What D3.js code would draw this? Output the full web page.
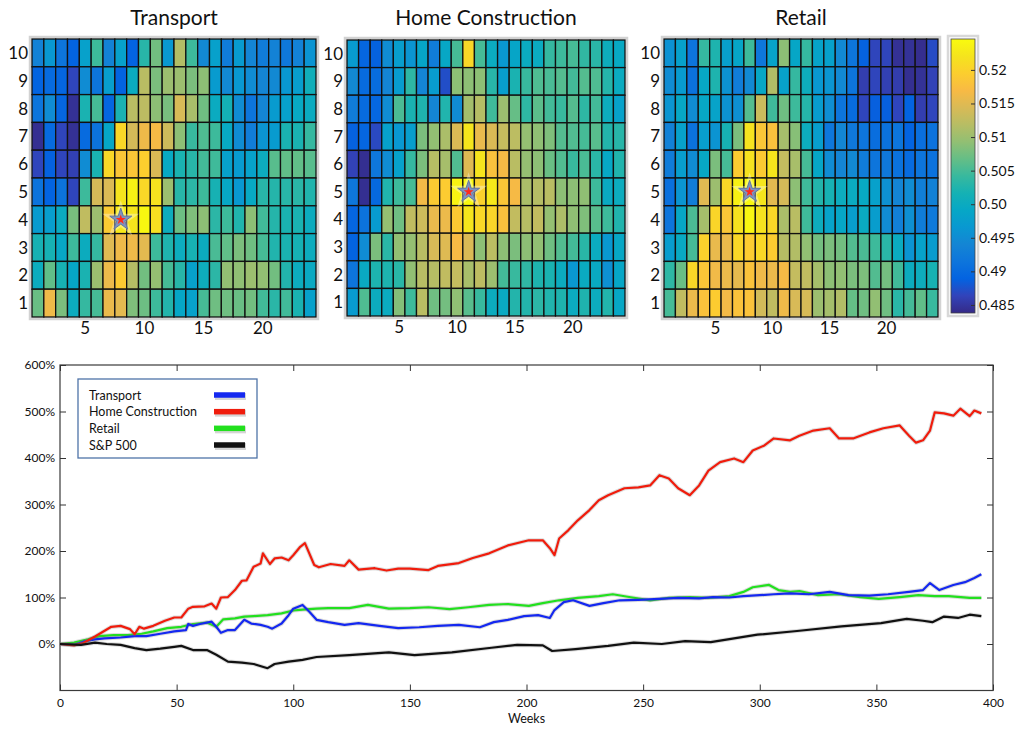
<!DOCTYPE html>
<html>
<head>
<meta charset="utf-8">
<script src="https://cdn.jsdelivr.net/npm/d3@7"></script>
<style>
  body { margin: 0; background: #fff; }
  svg { display: block; }
  text { font-family: Lato, "Open Sans", sans-serif; fill: #111; }
</style>
</head>
<body>
<svg id="chart" width="1019" height="731"></svg>
<script>
// ---- heatmap data (rows listed top = 10 to bottom = 1, columns 1..24) ----
const rowLabels = [10, 9, 8, 7, 6, 5, 4, 3, 2, 1];
const colLabels = d3.range(1, 25);
const colTicks = [5, 10, 15, 20];

const transportGrid = [
  [0.4935, 0.4965, 0.4915, 0.4890, 0.4980, 0.5045, 0.4935, 0.4980, 0.4890, 0.5030, 0.5075, 0.4965, 0.5115, 0.5045, 0.4945, 0.4980, 0.4925, 0.4970, 0.4940, 0.4925, 0.4935, 0.4920, 0.4935, 0.4960],
  [0.4890, 0.4900, 0.4893, 0.4865, 0.4950, 0.4915, 0.4975, 0.4890, 0.5000, 0.5120, 0.5080, 0.5100, 0.5100, 0.5080, 0.5090, 0.4970, 0.4945, 0.4965, 0.4950, 0.4940, 0.4945, 0.4965, 0.4975, 0.5010],
  [0.4915, 0.4950, 0.4893, 0.4845, 0.5020, 0.5050, 0.4893, 0.5020, 0.5120, 0.5123, 0.5090, 0.5078, 0.5143, 0.5108, 0.5073, 0.5000, 0.5015, 0.4950, 0.4915, 0.4940, 0.4970, 0.4980, 0.4995, 0.5000],
  [0.4843, 0.4900, 0.4865, 0.4845, 0.4900, 0.4912, 0.4990, 0.5205, 0.5140, 0.5162, 0.5168, 0.5135, 0.5090, 0.5042, 0.5055, 0.5045, 0.4995, 0.4950, 0.4928, 0.4960, 0.4970, 0.5020, 0.5020, 0.5040],
  [0.4865, 0.4888, 0.4865, 0.4860, 0.4950, 0.5020, 0.5205, 0.5185, 0.5185, 0.5195, 0.5145, 0.4995, 0.5020, 0.5030, 0.5048, 0.5046, 0.4980, 0.4970, 0.4982, 0.5003, 0.5060, 0.5065, 0.5065, 0.5060],
  [0.4912, 0.4890, 0.4912, 0.4865, 0.5045, 0.5140, 0.5145, 0.5220, 0.5235, 0.5205, 0.5218, 0.5100, 0.5030, 0.5033, 0.5045, 0.5018, 0.4992, 0.4965, 0.4995, 0.5030, 0.5028, 0.5030, 0.5032, 0.5025],
  [0.4970, 0.4975, 0.5000, 0.5078, 0.5125, 0.5100, 0.5190, 0.5225, 0.5222, 0.5242, 0.5215, 0.5005, 0.5072, 0.5082, 0.5090, 0.5033, 0.5045, 0.5025, 0.5090, 0.5047, 0.5028, 0.5020, 0.5020, 0.5002],
  [0.5018, 0.5018, 0.4992, 0.5045, 0.5002, 0.5040, 0.5148, 0.5162, 0.5162, 0.5152, 0.5045, 0.5024, 0.5003, 0.5018, 0.5002, 0.5052, 0.5065, 0.5080, 0.5073, 0.5050, 0.5025, 0.5020, 0.5017, 0.5003],
  [0.5003, 0.5065, 0.5018, 0.4990, 0.5020, 0.5100, 0.5160, 0.5190, 0.5117, 0.5075, 0.5095, 0.5050, 0.5030, 0.4980, 0.5005, 0.5033, 0.5093, 0.5092, 0.5100, 0.5093, 0.5075, 0.5026, 0.5003, 0.4997],
  [0.5070, 0.5162, 0.5080, 0.5002, 0.5040, 0.5050, 0.5158, 0.5152, 0.5082, 0.5072, 0.5045, 0.5027, 0.4990, 0.4982, 0.5050, 0.5073, 0.5073, 0.5070, 0.5075, 0.5047, 0.5032, 0.5047, 0.5020, 0.4980]
];

const homeGrid = [
  [0.4970, 0.4893, 0.4888, 0.4950, 0.4975, 0.4962, 0.4988, 0.4925, 0.4992, 0.5050, 0.5205, 0.5050, 0.5000, 0.4965, 0.4988, 0.5000, 0.5000, 0.5040, 0.5045, 0.5050, 0.5037, 0.5032, 0.5005, 0.4995],
  [0.4945, 0.4900, 0.4903, 0.4940, 0.4973, 0.5035, 0.4940, 0.4973, 0.4872, 0.5090, 0.5090, 0.5090, 0.5030, 0.4975, 0.5020, 0.5042, 0.5055, 0.5052, 0.5058, 0.5048, 0.5058, 0.5055, 0.5028, 0.5000],
  [0.4925, 0.4900, 0.4895, 0.4950, 0.5053, 0.5020, 0.5024, 0.4940, 0.5025, 0.4950, 0.5105, 0.5117, 0.5046, 0.5100, 0.5068, 0.5035, 0.5062, 0.5048, 0.5042, 0.5058, 0.5035, 0.5048, 0.5003, 0.4982],
  [0.4888, 0.4893, 0.4868, 0.4980, 0.4965, 0.4975, 0.5080, 0.5093, 0.5110, 0.5145, 0.5222, 0.5157, 0.5145, 0.5130, 0.5122, 0.5095, 0.5092, 0.5082, 0.5058, 0.5056, 0.5050, 0.5060, 0.5027, 0.5030],
  [0.4862, 0.4843, 0.4918, 0.4950, 0.4980, 0.5040, 0.5080, 0.5118, 0.5107, 0.5056, 0.5148, 0.5220, 0.5178, 0.5168, 0.5120, 0.5095, 0.5090, 0.5070, 0.5056, 0.5042, 0.5052, 0.5032, 0.4993, 0.5025],
  [0.4918, 0.4843, 0.4897, 0.5025, 0.5045, 0.5050, 0.5165, 0.5190, 0.5192, 0.5237, 0.5242, 0.5198, 0.5225, 0.5185, 0.5168, 0.5110, 0.5117, 0.5120, 0.5090, 0.5090, 0.5092, 0.5045, 0.4997, 0.5003],
  [0.4893, 0.4912, 0.4970, 0.5095, 0.5073, 0.5125, 0.5135, 0.5157, 0.5160, 0.5190, 0.5222, 0.5205, 0.5203, 0.5178, 0.5127, 0.5118, 0.5127, 0.5095, 0.5112, 0.5092, 0.5082, 0.5060, 0.5045, 0.5025],
  [0.4890, 0.4950, 0.5080, 0.5032, 0.5093, 0.5095, 0.5120, 0.5143, 0.5148, 0.5168, 0.5145, 0.5090, 0.5122, 0.5090, 0.5080, 0.5090, 0.5093, 0.5073, 0.5057, 0.5048, 0.5031, 0.5000, 0.4965, 0.4992],
  [0.4915, 0.4997, 0.5022, 0.5022, 0.5031, 0.5093, 0.5119, 0.5118, 0.5125, 0.5128, 0.5108, 0.5123, 0.5100, 0.5048, 0.5042, 0.5036, 0.5023, 0.5020, 0.5002, 0.4965, 0.4998, 0.4996, 0.4955, 0.4990],
  [0.4970, 0.5055, 0.5002, 0.5000, 0.5085, 0.5045, 0.5120, 0.5073, 0.5076, 0.5092, 0.5060, 0.5042, 0.5002, 0.4997, 0.5027, 0.5027, 0.5033, 0.5025, 0.5023, 0.5000, 0.5024, 0.5002, 0.5026, 0.4992]
];

const retailGrid = [
  [0.4958, 0.4980, 0.4915, 0.5040, 0.5023, 0.4978, 0.4988, 0.5045, 0.4918, 0.4985, 0.5090, 0.4990, 0.5040, 0.4985, 0.4980, 0.4945, 0.4915, 0.4888, 0.4865, 0.4865, 0.4845, 0.4846, 0.4842, 0.4870],
  [0.4950, 0.4970, 0.4910, 0.4992, 0.5023, 0.4958, 0.4928, 0.4945, 0.4992, 0.5115, 0.4980, 0.5040, 0.5005, 0.4965, 0.4962, 0.4945, 0.4915, 0.4858, 0.4865, 0.4860, 0.4857, 0.4843, 0.4846, 0.4862],
  [0.4962, 0.4992, 0.4950, 0.4992, 0.4985, 0.4958, 0.4955, 0.5058, 0.5133, 0.5046, 0.5073, 0.5045, 0.5028, 0.4972, 0.4952, 0.4915, 0.4902, 0.4865, 0.4887, 0.4887, 0.4865, 0.4890, 0.4858, 0.4865],
  [0.4933, 0.4980, 0.4910, 0.4975, 0.4960, 0.5018, 0.5080, 0.5218, 0.5185, 0.5178, 0.5107, 0.5087, 0.5003, 0.4975, 0.4918, 0.4942, 0.4920, 0.4915, 0.4905, 0.4910, 0.4915, 0.4890, 0.4906, 0.4910],
  [0.4925, 0.4975, 0.4950, 0.4992, 0.5080, 0.5050, 0.5192, 0.5218, 0.5190, 0.5222, 0.5128, 0.5108, 0.5050, 0.4990, 0.4950, 0.4940, 0.4945, 0.4925, 0.4915, 0.4920, 0.4910, 0.4900, 0.4915, 0.4910],
  [0.4908, 0.4962, 0.4928, 0.5150, 0.5100, 0.5205, 0.5235, 0.5242, 0.5222, 0.5152, 0.5140, 0.5090, 0.5046, 0.5027, 0.5018, 0.5003, 0.5000, 0.4995, 0.4980, 0.4955, 0.4940, 0.4950, 0.4930, 0.4933],
  [0.4915, 0.4992, 0.5053, 0.5106, 0.5203, 0.5185, 0.5218, 0.5240, 0.5218, 0.5205, 0.5110, 0.5120, 0.5046, 0.5005, 0.4985, 0.4990, 0.4975, 0.4998, 0.4974, 0.4948, 0.4932, 0.4954, 0.4927, 0.4922],
  [0.4972, 0.4996, 0.5050, 0.5198, 0.5157, 0.5160, 0.5205, 0.5192, 0.5207, 0.5193, 0.5118, 0.5115, 0.5093, 0.5076, 0.5080, 0.5075, 0.5057, 0.5053, 0.5045, 0.5032, 0.5000, 0.4960, 0.4982, 0.4972],
  [0.5035, 0.5070, 0.5205, 0.5185, 0.5164, 0.5160, 0.5155, 0.5180, 0.5162, 0.5160, 0.5168, 0.5128, 0.5125, 0.5106, 0.5090, 0.5093, 0.5080, 0.5081, 0.5057, 0.5076, 0.5047, 0.5002, 0.5005, 0.5018],
  [0.5050, 0.5125, 0.5160, 0.5180, 0.5193, 0.5165, 0.5180, 0.5180, 0.5138, 0.5125, 0.5162, 0.5143, 0.5142, 0.5100, 0.5106, 0.5115, 0.5067, 0.5073, 0.5093, 0.5073, 0.5032, 0.5049, 0.5065, 0.5042]
];

const panelTitles = ['Transport', 'Home Construction', 'Retail'];
const panelGrids = [transportGrid, homeGrid, retailGrid];
const starCells = [[8, 4], [11, 5], [8, 5]]; // [column, row]

const cbTicks = [0.485, 0.49, 0.495, 0.50, 0.505, 0.51, 0.515, 0.52];
const cbTickLabels = ['0.485', '0.49', '0.495', '0.50', '0.505', '0.51', '0.515', '0.52'];
const cbDomain = [0.4838, 0.5246];

// ---- line chart data: [week, % return] ----
const transport = [[0,0],[6,-2],[10,5],[15,10],[19,12],[26,14],[32,17],[37,17],[43,22],[49,27],[54,30],[55,43],[57,39],[60,43],[65,48],[67,37],[69,24],[72,30],[75,30],[79,52],[82,44],[86,41],[89,37],[91,33],[95,44],[98,62],[100,76],[104,84],[107,69],[110,52],[115,47],[122,41],[128,45],[137,39],[145,34],[154,36],[162,39],[171,41],[180,36],[186,47],[192,52],[199,60],[205,62],[210,56],[212,73],[216,90],[220,94],[227,82],[233,88],[240,94],[248,95],[257,97],[265,99],[274,98],[280,101],[287,100],[293,103],[300,105],[306,107],[313,109],[321,107],[330,112],[338,105],[347,104],[355,107],[364,112],[370,116],[373,131],[377,116],[383,127],[388,133],[392,142],[395,150]];
const homeConstruction = [[0,0],[6,-3],[10,2],[15,16],[22,37],[26,39],[30,32],[32,21],[34,37],[36,33],[40,39],[45,50],[49,57],[52,57],[55,76],[57,80],[62,81],[65,87],[67,76],[69,100],[72,101],[75,116],[78,136],[80,137],[83,166],[86,173],[87,195],[90,172],[92,184],[95,186],[98,180],[100,191],[103,209],[105,217],[109,170],[111,165],[116,172],[122,168],[124,180],[128,160],[135,163],[140,158],[145,162],[150,162],[158,159],[162,168],[171,174],[177,185],[184,195],[192,212],[201,223],[207,223],[210,206],[212,191],[214,227],[218,245],[222,266],[227,288],[231,309],[235,320],[242,335],[248,337],[253,341],[257,363],[261,356],[265,335],[270,320],[274,341],[278,373],[283,391],[289,399],[293,391],[297,416],[302,427],[306,442],[313,438],[317,448],[323,459],[330,464],[334,442],[340,442],[347,455],[353,464],[360,470],[364,448],[367,433],[370,438],[373,459],[375,498],[379,496],[383,491],[386,506],[390,490],[392,502],[395,496]];
const retail = [[0,0],[6,3],[12,10],[17,17],[23,19],[29,19],[35,22],[40,27],[46,34],[52,37],[57,43],[63,46],[67,37],[70,53],[75,55],[79,59],[83,60],[89,62],[95,66],[100,72],[104,74],[110,76],[115,77],[124,77],[132,84],[141,76],[150,77],[158,79],[167,75],[175,79],[184,84],[192,86],[201,82],[207,88],[214,94],[222,99],[231,103],[237,107],[244,101],[253,94],[261,99],[270,101],[278,99],[287,103],[293,112],[297,122],[304,127],[308,116],[313,112],[317,114],[325,105],[334,107],[343,101],[351,97],[360,101],[368,105],[375,103],[381,103],[390,99],[395,99]];
const sp500 = [[0,0],[9,-2],[15,3],[20,0],[26,-2],[32,-9],[37,-13],[43,-10],[49,-6],[52,-4],[57,-13],[63,-13],[67,-23],[72,-38],[78,-40],[83,-43],[89,-52],[92,-43],[98,-38],[104,-34],[110,-28],[124,-24],[141,-18],[152,-24],[168,-18],[185,-8],[196,-2],[207,-3],[211,-15],[221,-11],[235,-4],[246,3],[258,0],[268,6],[279,4],[299,20],[316,28],[335,38],[352,45],[363,54],[370,50],[374,47],[379,59],[385,56],[390,63],[395,60]];

const seriesNames = ['Transport', 'Home Construction', 'Retail', 'S&P 500'];
const seriesColors = ['#1428f0', '#f01c0c', '#22e01e', '#111111'];
const yTicks = [0, 100, 200, 300, 400, 500, 600];
const xTicks = [0, 50, 100, 150, 200, 250, 300, 350, 400];

// parula colormap anchors
const parula = ['#352a87', '#3243ba', '#0363e1', '#0d75dc', '#1485d4', '#0998d1', '#06a7c6', '#15b1b4',
  '#38b99e', '#65be86', '#92bf73', '#b7bd64', '#d9ba56', '#f8ba44', '#fcce2e', '#f5e41d', '#f9fb0e'];

const svg = d3.select('#chart');
svg.append('rect').attr('width', 1019).attr('height', 731).attr('fill', '#fff');

const color = d3.scaleLinear()
  .domain(parula.map((c, i) => cbDomain[0] + (cbDomain[1] - cbDomain[0]) * i / (parula.length - 1)))
  .range(parula)
  .interpolate(d3.interpolateRgb)
  .clamp(true);

// ---- heatmaps ----
const panels = [
  { x0: 32, x1: 316, y0: 39, y1: 317 },
  { x0: 347, x1: 625, y0: 40, y1: 316 },
  { x0: 664, x1: 938, y0: 39, y1: 317 }
];

panels.forEach((p, i) => {
  const g = svg.append('g');
  const x = d3.scaleBand().domain(colLabels).range([p.x0, p.x1]);
  const y = d3.scaleBand().domain(rowLabels).range([p.y0, p.y1]);

  g.append('rect')
    .attr('x', p.x0 - 2).attr('y', p.y0 - 2)
    .attr('width', p.x1 - p.x0 + 4).attr('height', p.y1 - p.y0 + 4)
    .attr('fill', 'none').attr('stroke', '#d2d2d2').attr('stroke-width', 2.5);

  const cells = [];
  panelGrids[i].forEach((row, r) => row.forEach((v, c) => cells.push({ row: rowLabels[r], col: c + 1, v })));

  g.selectAll('rect.cell').data(cells).enter()
    .append('rect')
      .attr('class', 'cell')
      .attr('x', d => x(d.col)).attr('y', d => y(d.row))
      .attr('width', x.bandwidth()).attr('height', y.bandwidth())
      .attr('fill', d => color(d.v))
      .attr('stroke', '#111').attr('stroke-width', 1.3);

  g.append('text')
    .attr('x', (p.x0 + p.x1) / 2).attr('y', 25)
    .attr('text-anchor', 'middle')
    .style('font-size', '21px')
    .text(panelTitles[i]);

  g.selectAll('text.rl').data(rowLabels).enter()
    .append('text')
      .attr('class', 'rl')
      .attr('x', p.x0 - 4).attr('y', d => y(d) + y.bandwidth() / 2 + 6)
      .attr('text-anchor', 'end')
      .style('font-size', '17px')
      .text(d => d);

  g.selectAll('text.cl').data(colTicks).enter()
    .append('text')
      .attr('class', 'cl')
      .attr('x', d => x(d) + x.bandwidth() / 2).attr('y', p.y1 + 17)
      .attr('text-anchor', 'middle')
      .style('font-size', '17px')
      .text(d => d);

  const s = starCells[i];
  const sx = x(s[0]) + x.bandwidth() / 2, sy = y(s[1]) + y.bandwidth() / 2;
  g.append('path')
    .attr('d', d3.symbol(d3.symbolStar, 190)())
    .attr('transform', `translate(${sx},${sy})`)
    .attr('fill', '#fff').attr('opacity', 0.35)
    .attr('stroke', '#fff').attr('stroke-width', 4);
  g.append('path')
    .attr('d', d3.symbol(d3.symbolStar, 150)())
    .attr('transform', `translate(${sx},${sy})`)
    .attr('fill', '#8193bd').attr('stroke', '#5f74a6').attr('stroke-width', 1);
  g.append('path')
    .attr('d', d3.symbol(d3.symbolStar, 30)())
    .attr('transform', `translate(${sx},${sy})`)
    .attr('fill', '#ff2a1a');
});

// ---- colorbar ----
const cb = { x: 951, w: 24, y0: 39, y1: 313 };
const cbScale = d3.scaleLinear().domain(cbDomain).range([cb.y1, cb.y0]);
const defs = svg.append('defs');
const grad = defs.append('linearGradient').attr('id', 'parula')
  .attr('x1', 0).attr('y1', 1).attr('x2', 0).attr('y2', 0);
grad.selectAll('stop').data(parula).enter().append('stop')
  .attr('offset', (d, i) => i / (parula.length - 1))
  .attr('stop-color', d => d);

svg.append('rect')
  .attr('x', cb.x - 3).attr('y', cb.y0 - 3).attr('width', cb.w + 6).attr('height', cb.y1 - cb.y0 + 6)
  .attr('fill', 'none').attr('stroke', '#d8d8d8').attr('stroke-width', 2.5);
svg.append('rect')
  .attr('x', cb.x).attr('y', cb.y0).attr('width', cb.w).attr('height', cb.y1 - cb.y0)
  .attr('fill', 'url(#parula)').attr('stroke', '#444').attr('stroke-width', 0.8);

const cbAxis = svg.append('g')
  .attr('transform', `translate(${cb.x + cb.w},0)`)
  .call(d3.axisRight(cbScale).tickValues(cbTicks)
    .tickFormat((d, i) => cbTickLabels[i]).tickSizeInner(-4).tickSizeOuter(0).tickPadding(4));
cbAxis.select('.domain').remove();
cbAxis.selectAll('line').attr('stroke', '#333');
cbAxis.selectAll('text').style('font-size', '14px').style('font-family', 'Lato, sans-serif').attr('fill', '#111');

// ---- line chart ----
const lx = d3.scaleLinear().domain([0, 400]).range([60, 993]);
const ly = d3.scaleLinear().domain([-100, 600]).range([690.5, 365]);
const chart = svg.append('g');

chart.append('rect')
  .attr('x', lx(0)).attr('y', ly(600))
  .attr('width', lx(400) - lx(0)).attr('height', ly(-100) - ly(600))
  .attr('fill', 'none').attr('stroke', '#3a3a3a').attr('stroke-width', 1.2);

const styleAxis = (sel) => {
  sel.select('.domain').remove();
  sel.selectAll('line').attr('stroke', '#333');
  sel.selectAll('text').style('font-size', '12px').style('font-family', 'Lato, sans-serif').attr('fill', '#111');
};

chart.append('g').attr('transform', `translate(0,${ly(-100)})`)
  .call(d3.axisBottom(lx).tickValues(xTicks).tickSizeInner(-6).tickSizeOuter(0).tickPadding(8))
  .call(styleAxis);
chart.append('g').attr('transform', `translate(0,${ly(600)})`)
  .call(d3.axisTop(lx).tickValues(xTicks).tickFormat('').tickSizeInner(-6).tickSizeOuter(0))
  .call(styleAxis);
chart.append('g').attr('transform', `translate(${lx(0)},0)`)
  .call(d3.axisLeft(ly).tickValues(yTicks).tickFormat(d => d + '%').tickSizeInner(-6).tickSizeOuter(0).tickPadding(5))
  .call(styleAxis);
chart.append('g').attr('transform', `translate(${lx(400)},0)`)
  .call(d3.axisRight(ly).tickValues(yTicks).tickFormat('').tickSizeInner(-6).tickSizeOuter(0))
  .call(styleAxis);

chart.append('text')
  .attr('x', (lx(0) + lx(400)) / 2).attr('y', 723)
  .attr('text-anchor', 'middle').style('font-size', '12.5px')
  .text('Weeks');

const line = d3.line().x(d => lx(d[0])).y(d => ly(d[1]));
const allSeries = [transport, homeConstruction, retail, sp500];
const drawOrder = [2, 0, 1, 3];

drawOrder.forEach(i => {
  chart.append('path').datum(allSeries[i])
    .attr('d', line).attr('fill', 'none')
    .attr('stroke', '#777').attr('stroke-opacity', 0.25).attr('stroke-width', 4.2)
    .attr('stroke-linejoin', 'round');
  chart.append('path').datum(allSeries[i])
    .attr('d', line).attr('fill', 'none')
    .attr('stroke', seriesColors[i]).attr('stroke-width', 2.2)
    .attr('stroke-linejoin', 'round');
});

// legend
const legend = chart.append('g');
legend.append('rect')
  .attr('x', 78).attr('y', 379).attr('width', 179).attr('height', 79)
  .attr('fill', '#fff').attr('stroke', '#4f73a8').attr('stroke-width', 1.3);
const legendY = d3.scalePoint().domain(seriesNames).range([395, 445]);
seriesNames.forEach((name, i) => {
  const yy = legendY(name);
  legend.append('text')
    .attr('x', 89).attr('y', yy + 4.5)
    .style('font-size', '12.5px')
    .text(name);
  legend.append('line')
    .attr('x1', 215).attr('x2', 246).attr('y1', yy + 1.5).attr('y2', yy + 1.5)
    .attr('stroke', '#888').attr('stroke-opacity', 0.35).attr('stroke-width', 7);
  legend.append('line')
    .attr('x1', 214).attr('x2', 245).attr('y1', yy).attr('y2', yy)
    .attr('stroke', seriesColors[i]).attr('stroke-width', 5.5);
});
</script>
</body>
</html>
